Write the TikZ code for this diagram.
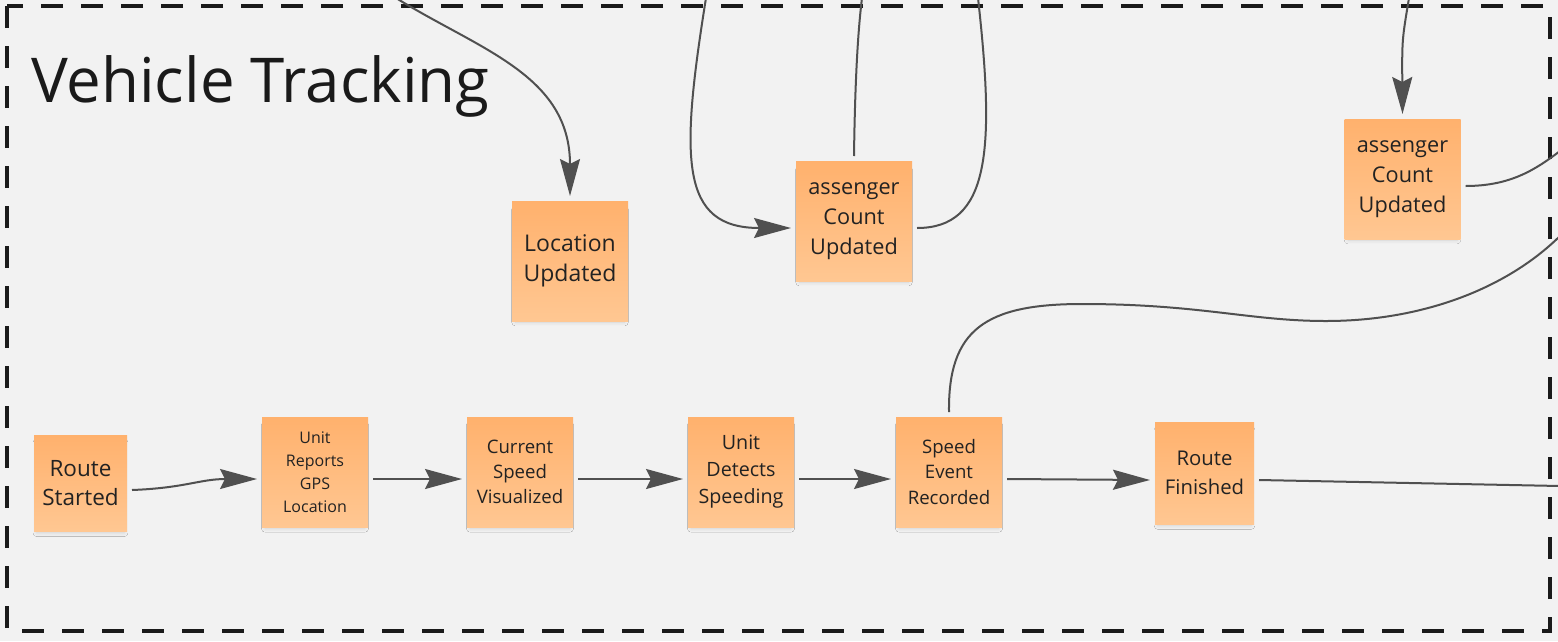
\documentclass[tikz,border=0pt]{standalone}
\usepackage{fontspec}
\setmainfont{Open Sans}
\usetikzlibrary{arrows.meta,shadows.blur}
\definecolor{board}{HTML}{F2F2F2}
\definecolor{frame}{HTML}{1A1A1A}
\definecolor{wire}{HTML}{505050}
\definecolor{notetop}{HTML}{FFB16D}
\definecolor{notebottom}{HTML}{FFC792}
\definecolor{ink}{HTML}{222222}
\begin{document}
\begin{tikzpicture}
    [ x=1pt, y=-1pt
    , note/.style={rectangle, top color=notetop, bottom color=notebottom,
        blur shadow={shadow xshift=0pt, shadow yshift=-5pt, shadow scale=0.94,
          shadow blur radius=4pt, shadow opacity=14},
        inner sep=0pt, outer sep=5pt, align=center, text=ink}
    , big/.style={note, minimum width=116pt, minimum height=120pt}
    , mid/.style={note, minimum width=106pt, minimum height=110pt}
    , flow/.style={draw=wire, line width=2pt,
        -{Stealth[length=37pt, width=20pt, inset=5pt]}}
    , link/.style={draw=wire, line width=2pt}
    ]
\useasboundingbox (0,0) rectangle (1558,641);
\fill[board] (0,0) rectangle (1558,641);
\draw[frame, line width=4.2pt, dash pattern=on 22pt off 18pt] (7,6) rectangle (1550,631);
\node[anchor=base west, text=frame, font=\fontsize{61.8}{62}\selectfont, inner sep=0pt]
    (title) at (31,102) {Vehicle Tracking};

% lower row
\node[note, minimum width=93pt, minimum height=96pt, font=\fontsize{22.5}{29}\selectfont]
    (started) at (80.5,483) {Route\\Started};
\node[mid, font=\fontsize{16}{23}\selectfont] (gps) at (315,472) {Unit\\Reports\\GPS\\Location};
\node[mid, font=\fontsize{18.6}{25}\selectfont] (speedvis) at (520,472) {Current\\Speed\\Visualized};
\node[mid, font=\fontsize{19.7}{27}\selectfont] (speeding) at (741,472) {Unit\\Detects\\Speeding};
\node[mid, font=\fontsize{18.6}{25.5}\selectfont] (speedevt) at (949,472) {Speed\\Event\\Recorded};
\node[note, minimum width=99pt, minimum height=102pt, font=\fontsize{20.3}{28.5}\selectfont]
    (finished) at (1204.5,473) {Route\\Finished};

% upper row
\node[big, font=\fontsize{23}{30}\selectfont] (location) at (570,261) {Location\\Updated};
\node[big, font=\fontsize{21.7}{30}\selectfont] (countA) at (854,221) {assenger\\Count\\Updated};
\node[big, font=\fontsize{21.7}{30}\selectfont] (countB) at (1402.5,179) {assenger\\Count\\Updated};

\coordinate (offFinished) at (1560,486);
\coordinate (offEvent) at (1560,236);
\coordinate (offCountB) at (1560,151);
\coordinate (topLocation) at (396,-2);
\coordinate (topLoopIn) at (706,-2);
\coordinate (topCountA) at (862,-2);
\coordinate (topLoopOut) at (978,-2);
\coordinate (topCountB) at (1409,-2);

\draw[flow] ([yshift=-7pt]started.east) .. controls (185,488) and (200,479) .. ([yshift=-7pt]gps.west);
\draw[flow] ([yshift=-7pt]gps.east) -- ([yshift=-7pt]speedvis.west);
\draw[flow] ([yshift=-7pt]speedvis.east) -- ([yshift=-7pt]speeding.west);
\draw[flow] ([yshift=-7pt]speeding.east) -- ([yshift=-7pt]speedevt.west);
\draw[flow] ([yshift=-7pt]speedevt.east) -- ([yshift=-7pt]finished.west);
\draw[link] ([yshift=-7pt]finished.east) -- (offFinished);
\draw[link] (speedevt.north) .. controls (948,330) and (985,304) .. (1082,304)
    .. controls (1200,304) and (1250,321) .. (1326,321)
    .. controls (1420,321) and (1505,290) .. (offEvent);

\draw[flow] (topLocation) .. controls (480,50) and (570,75) .. (location.north);
\draw[flow] (topLoopIn) .. controls (680,160) and (680,228) .. ([yshift=-7pt]countA.west);
\draw[link] (countA.north) .. controls (855,80) and (858,30) .. (topCountA);
\draw[link] ([yshift=-7pt]countA.east) .. controls (990,228) and (995,150) .. (topLoopOut);
\draw[flow] (topCountB) .. controls (1402,40) .. (countB.north);
\draw[link] ([yshift=-7pt]countB.east) .. controls (1510,186) and (1535,170) .. (offCountB);
\end{tikzpicture}
\end{document}
